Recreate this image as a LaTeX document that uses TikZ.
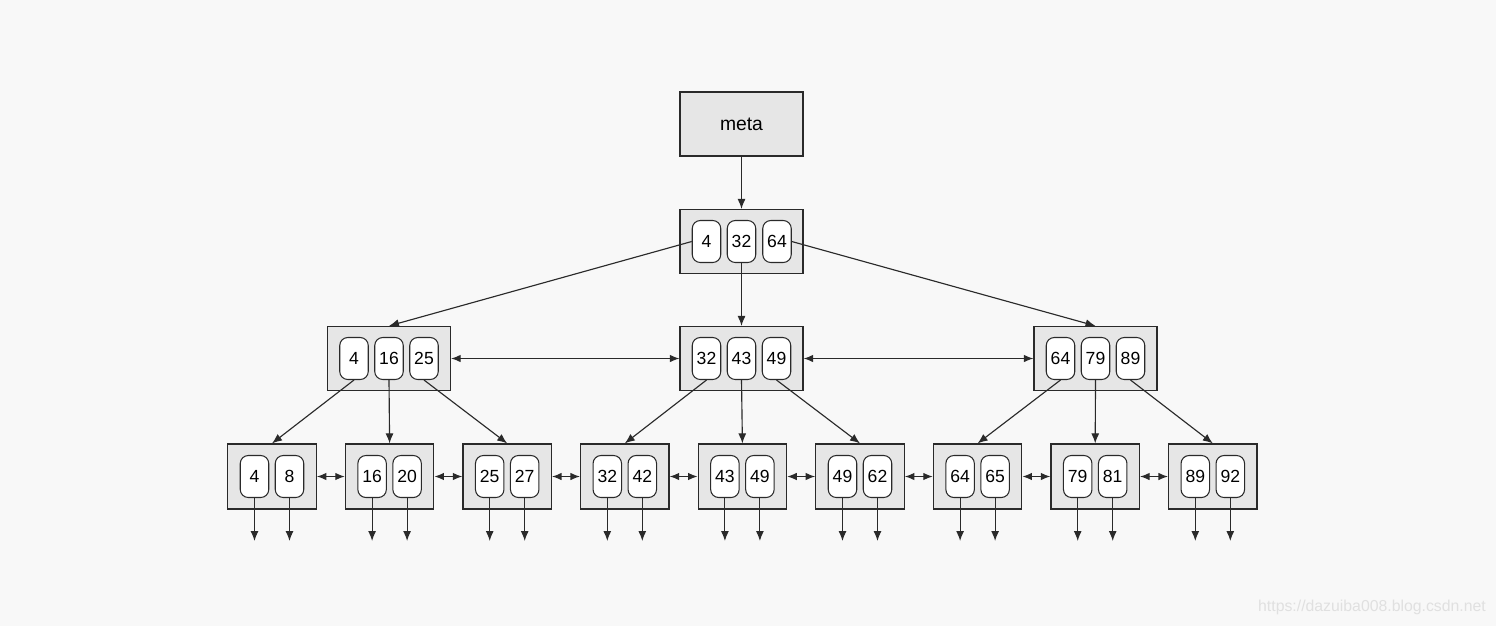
\documentclass[tikz,border=0pt]{standalone}
\usepackage{fontspec}
\setmainfont{Liberation Sans}
\usetikzlibrary{arrows.meta}
\definecolor{fondo}{HTML}{F8F8F8}
\definecolor{caja}{HTML}{E6E6E6}
\definecolor{borde}{HTML}{2A2A2A}

\begin{document}
\begin{tikzpicture}[x=0.02cm,y=-0.02cm,
    nodo/.style={draw=borde,fill=caja,line width=0.7pt,minimum width=2.46cm,minimum height=1.28cm,inner sep=0pt},
    hoja/.style={nodo,minimum width=1.77cm,minimum height=1.3cm},
    clave/.style={draw=borde,fill=white,rounded corners=0.16cm,line width=0.6pt,minimum width=0.57cm,minimum height=0.84cm,inner sep=0pt,font=\fontsize{10}{11}\selectfont},
    flecha/.style={-{Latex[length=0.2cm,width=0.16cm]},line width=0.65pt,draw=borde},
    doble/.style={{Latex[length=0.19cm,width=0.15cm]}-{Latex[length=0.19cm,width=0.15cm]},line width=0.65pt,draw=borde}]
        % Fondo
        \fill[fondo] (0,0) rectangle (1496,626);
        \useasboundingbox (0,0) rectangle (1496,626);
        % Meta y raiz
        \node[nodo,font=\fontsize{11}{12}\selectfont] (meta) at (741.5,124) {meta};
        \node[nodo] (raiz) at (741.5,241.5) {};
        \node[clave] (ra) at (706.5,241.5) {4};
        \node[clave] (rb) at (741.5,241.5) {32};
        \node[clave] (rc) at (777,241.5) {64};
        \draw[flecha] (meta) -- (raiz);
        % Nivel intermedio
        \foreach \nom/\cx/\ka/\kb/\kc in {n1/389/4/16/25, n2/741.5/32/43/49, n3/1095.5/64/79/89}{
            \node[nodo] (\nom) at (\cx,358.5) {};
            \node[clave] (\nom a) at (\cx-35,358.5) {\ka};
            \node[clave] (\nom b) at (\cx,358.5) {\kb};
            \node[clave] (\nom c) at (\cx+35,358.5) {\kc};
        }
        \draw[flecha] (ra.west) -- (n1.north);
        \draw[flecha] (rb.south) -- (n2.north);
        \draw[flecha] (rc.east) -- (n3.north);
        \draw[doble] (n1) -- (n2);
        \draw[doble] (n2) -- (n3);
        % Hojas
        \foreach \ka/\kb [count=\i from 0] in {4/8, 16/20, 25/27, 32/42, 43/49, 49/62, 64/65, 79/81, 89/92}{
            \node[hoja] (h\i) at (272+117.6*\i,476.5) {};
            \node[clave] (h\i a) at (254.5+117.6*\i,476.5) {\ka};
            \node[clave] (h\i b) at (289.5+117.6*\i,476.5) {\kb};
            \coordinate (f\i a) at (254.5+117.6*\i,541);
            \coordinate (f\i b) at (289.5+117.6*\i,541);
            \draw[flecha] (h\i a.south) -- (f\i a);
            \draw[flecha] (h\i b.south) -- (f\i b);
        }
        \foreach \i [evaluate=\i as \j using int(\i+1)] in {0,...,7}{
            \draw[doble] (h\i.east) -- (h\j.west);
        }
        \foreach \nom/\k/\h in {n1/a/0, n1/b/1, n1/c/2, n2/a/3, n2/b/4, n2/c/5, n3/a/6, n3/b/7, n3/c/8}{
            \draw[flecha] (\nom\k.south) -- (h\h.north);
        }
        % Marca de agua
        \node[text=black!12,font=\fontsize{9}{10}\selectfont] (marca) at (1372,607) {https://dazuiba008.blog.csdn.net};
    \end{tikzpicture}
\end{document}
